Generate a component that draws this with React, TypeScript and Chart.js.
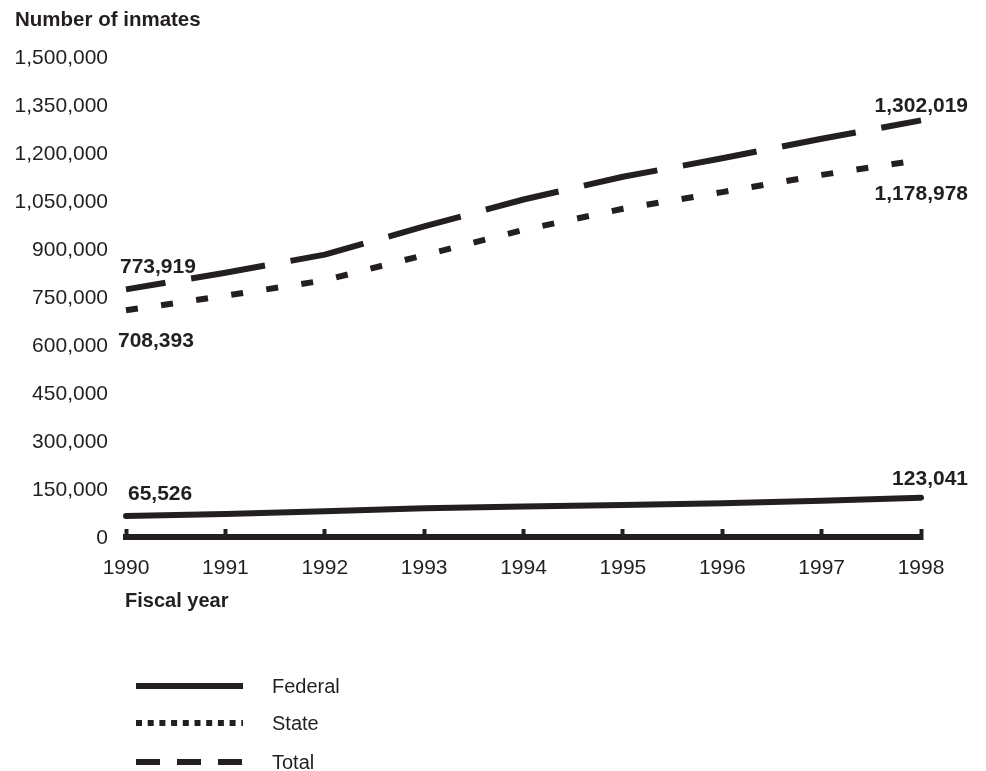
import React, { useEffect, useRef } from 'react';
import { Chart, registerables } from 'chart.js';

Chart.register(...registerables);

// ---- data ----
const years = ['1990', '1991', '1992', '1993', '1994', '1995', '1996', '1997', '1998'];
const federal = [65526, 71608, 80259, 89587, 95034, 100250, 105544, 112973, 123041];
const state = [708393, 753951, 802241, 880857, 959668, 1025624, 1077824, 1131581, 1178978];
const total = [773919, 825559, 882500, 970444, 1054702, 1125874, 1183368, 1244554, 1302019];
const seriesNames = ['Federal', 'State', 'Total'];
const yMin = 0;
const yMax = 1500000;
const yStep = 150000;
const yTitle = 'Number of inmates';
const xTitle = 'Fiscal year';

// ---- style ----
const INK = '#231f20';
const FONT = '"Liberation Sans", Arial, Helvetica, sans-serif';

const lineDash = [[], [12, 23.45], [75, 26]];
const lineDashOffset = [0, 0, 35];
const legendDash = [[], [6, 5.7], [24, 17]];

// label placement relative to first/last point (dx, dy to baseline)
const labelPlacement = [
  { first: { dx: 2, dy: -16, align: 'left' }, last: { dx: 47, dy: -13, align: 'right' } },
  { first: { dx: -8, dy: 37, align: 'left' }, last: { dx: 47, dy: 40, align: 'right' } },
  { first: { dx: -6, dy: -16, align: 'left' }, last: { dx: 47, dy: -8, align: 'right' } },
];

const fmt = (v: number) => Number(v).toLocaleString('en-US');

const annotatePlugin = {
  id: 'annotate',
  afterDraw(chart: any) {
    const ctx = chart.ctx as CanvasRenderingContext2D;
    const area = chart.chartArea;
    ctx.save();
    ctx.fillStyle = INK;
    ctx.textBaseline = 'alphabetic';
    ctx.textAlign = 'left';
    ctx.font = `bold 20.5px ${FONT}`;
    ctx.fillText(yTitle, 15, 26);
    ctx.font = `bold 20px ${FONT}`;
    ctx.fillText(xTitle, area.left - 1, 607);

    // data labels on first and last points
    ctx.font = `bold 21px ${FONT}`;
    chart.data.datasets.forEach((ds: any, i: number) => {
      const meta = chart.getDatasetMeta(i);
      const pts = meta.data;
      const place = labelPlacement[i];
      const n = pts.length;
      const items = [
        { p: pts[0], v: ds.data[0], cfg: place.first },
        { p: pts[n - 1], v: ds.data[n - 1], cfg: place.last },
      ];
      items.forEach(({ p, v, cfg }) => {
        ctx.textAlign = cfg.align as CanvasTextAlign;
        ctx.fillText(fmt(v), p.x + cfg.dx, p.y + cfg.dy);
      });
    });

    // legend
    const lx0 = 136;
    const lx1 = 243;
    const rows = [686, 723, 762];
    chart.data.datasets.forEach((ds: any, i: number) => {
      const y = rows[i];
      ctx.save();
      ctx.strokeStyle = ds.borderColor;
      ctx.lineWidth = 6;
      ctx.lineCap = 'butt';
      ctx.setLineDash(legendDash[i]);
      ctx.beginPath();
      ctx.moveTo(lx0, y);
      ctx.lineTo(lx1, y);
      ctx.stroke();
      ctx.restore();
      ctx.font = `20px ${FONT}`;
      ctx.textAlign = 'left';
      ctx.textBaseline = 'middle';
      ctx.fillStyle = INK;
      ctx.fillText(ds.label, 272, y + 1);
    });
    ctx.restore();
  },
};

export default function App() {
  const canvasRef = useRef<HTMLCanvasElement | null>(null);

  useEffect(() => {
    const canvas = canvasRef.current;
    if (!canvas) return;
    const seriesData = [federal, state, total];
    const chart = new Chart(canvas, {
      type: 'line',
      data: {
        labels: years,
        datasets: seriesData.map((d, i) => ({
          label: seriesNames[i],
          data: d,
          borderColor: INK,
          backgroundColor: INK,
          borderWidth: 6,
          borderDash: lineDash[i],
          borderDashOffset: lineDashOffset[i],
          borderCapStyle: i === 0 ? 'round' : 'butt',
          borderJoinStyle: 'round',
          pointRadius: 0,
          pointHoverRadius: 0,
          tension: 0,
          fill: false,
        })),
      },
      options: {
        animation: false,
        responsive: true,
        maintainAspectRatio: false,
        events: [],
        layout: { padding: { top: 57, left: 0, right: 65, bottom: 0 } },
        plugins: {
          legend: { display: false },
          title: { display: false },
          tooltip: { enabled: false },
        },
        scales: {
          x: {
            type: 'category',
            offset: false,
            grid: {
              display: true,
              drawOnChartArea: false,
              drawTicks: true,
              tickLength: -8,
              tickWidth: 4,
              tickColor: INK,
              color: INK,
            },
            border: { display: true, width: 6, color: INK },
            ticks: {
              padding: 27,
              color: INK,
              font: { family: FONT, size: 21 },
              maxRotation: 0,
              autoSkip: false,
            },
            afterFit: (s: any) => {
              s.height = 234;
            },
          },
          y: {
            min: yMin,
            max: yMax,
            grid: { display: false, drawTicks: false },
            border: { display: false },
            ticks: {
              stepSize: yStep,
              padding: 18,
              labelOffset: 1.5,
              color: INK,
              font: { family: FONT, size: 21 },
              callback: (v: any) => fmt(v),
            },
            afterFit: (s: any) => {
              s.width = 126;
            },
          },
        },
      },
      plugins: [annotatePlugin],
    } as any);
    return () => chart.destroy();
  }, []);

  return (
    <div style={{ position: 'fixed', left: 0, top: 0, width: 986, height: 771, background: '#fff' }}>
      <canvas ref={canvasRef} />
    </div>
  );
}
